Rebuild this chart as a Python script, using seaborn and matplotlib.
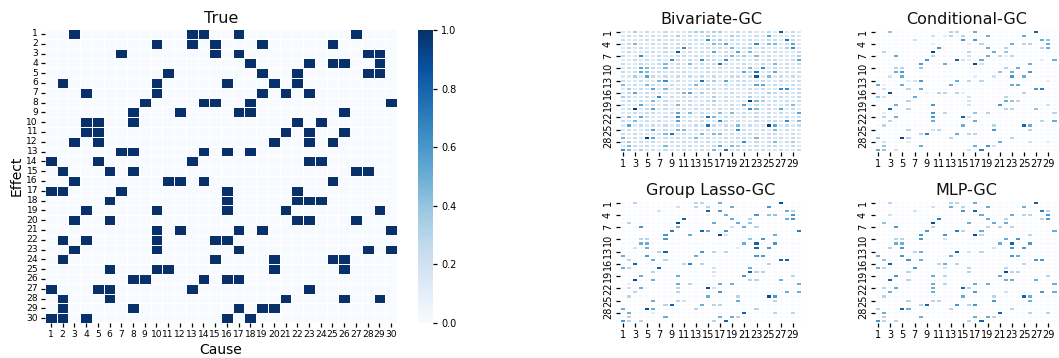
import numpy as np
import pandas as pd
import matplotlib
matplotlib.use("Agg")
import matplotlib.pyplot as plt
import seaborn as sns

# ---------------- data ----------------
labels = [str(i) for i in range(1, 31)]

# True causes (1-based column indices) for each effect row 1..30
true_causes = [
    [3, 13, 14, 17, 27], [10, 13, 15, 19, 25], [7, 15, 17, 28, 29], [18, 23, 25, 26, 29],
    [11, 19, 22, 28, 29], [2, 10, 16, 20, 22], [4, 10, 19, 21, 23], [9, 14, 15, 18, 30],
    [8, 12, 17, 18, 26], [4, 5, 8, 22, 24], [4, 5, 21, 23, 26], [3, 5, 20, 23, 25],
    [7, 8, 14, 16, 18], [1, 5, 13, 23, 24], [2, 6, 8, 27, 28], [3, 11, 12, 14, 25],
    [1, 2, 7, 16, 22], [6, 16, 22, 23, 24], [4, 10, 16, 21, 29], [3, 6, 22, 23, 27],
    [10, 12, 17, 19, 30], [2, 4, 10, 15, 16], [3, 10, 17, 28, 30], [2, 15, 20, 25, 26],
    [6, 10, 11, 20, 26], [8, 9, 14, 16, 17], [1, 5, 6, 13, 23], [2, 6, 21, 26, 29],
    [2, 8, 17, 19, 20], [1, 2, 4, 16, 18],
]

# Bivariate-GC: digit d = intensity bin (value ~ (d + 0.5) / 10), 30 rows x 30 cols
bivariate_rows = [
    "11312 11211 12332 33112 12112 18121", "12121 21213 12113 21132 11215 11121",
    "21112 12121 11216 23121 12112 21721", "12411 21212 12121 43512 12614 41251",
    "12121 11212 62112 12141 23121 11361", "12112 21218 12121 51215 14121 21112",
    "21161 12112 21212 11242 31412 12113", "11212 12162 12162 21612 11212 21125",
    "21121 12412 14121 27211 21121 41212", "12154 21412 11212 12112 14161 21211",
    "21254 12121 21112 12121 52712 51212", "11315 21212 12121 21122 12814 12121",
    "21121 14612 11272 31512 21121 12112", "41214 21121 12412 11212 21551 21121",
    "13121 51412 12112 21211 12121 16612", "12512 11212 45131 21121 12113 21212",
    "32112 16121 21211 31212 13121 12112", "12121 41212 12112 31211 19431 21212",
    "21151 21214 12121 21121 51212 11241", "12912 51211 21212 12121 16412 15121",
    "11212 21125 14121 14141 21212 12115", "14152 11216 21127 41211 21212 11212",
    "21412 12115 12121 16212 11212 21614", "15121 21212 11217 21214 12119 51212",
    "12112 51214 41212 11216 21121 41211", "21211 12471 21141 44121 12112 21121",
    "41219 51212 12412 11212 21412 12121", "13121 21121 21212 12121 61212 41231",
    "14212 11412 12121 25143 11212 21121", "64131 21211 21121 41712 12121 12112",
]

# Sparse panels: "col:level" (value = level/10)
conditional_rows = [
    "3:4 13:3 14:3 17:5 27:8", "10:2 12:1 13:3 15:3 19:5 25:5", "7:2 15:6 17:6 28:5 29:4",
    "10:1 16:1 18:3 23:5 25:3 26:3 29:5", "11:6 19:5 22:3 28:3 29:5", "2:3 10:9 16:3 20:5 22:4",
    "4:5 10:3 16:2 19:5 21:3 22:1 23:3", "9:6 14:8 15:2 16:1 18:5 28:1 30:5",
    "8:6 12:5 17:9 18:2 26:5", "4:3 5:3 8:4 22:3 24:5", "4:5 5:6 21:4 23:5 26:6",
    "3:2 5:5 17:1 20:2 23:6 25:5", "6:1 7:2 8:6 14:5 16:3 18:3 29:1",
    "1:5 2:1 5:5 13:5 23:5 24:5", "2:2 6:3 8:5 27:6 28:7",
    "3:9 9:1 11:3 12:3 14:3 15:1 25:3", "1:4 2:2 7:5 16:2 22:3", "6:3 16:2 22:5 23:4 24:3",
    "4:5 10:6 16:2 21:6 29:2", "3:8 6:3 22:3 23:3 27:4", "2:1 10:6 12:3 17:4 19:3 30:3",
    "2:3 4:5 10:6 15:8 16:2", "3:3 10:5 17:5 28:3 30:5", "2:3 15:5 20:3 25:8 26:5",
    "6:3 10:2 11:3 20:6 26:3", "8:3 9:7 14:5 16:3 17:3", "1:4 5:9 6:3 13:3 23:3",
    "2:2 6:1 21:5 26:2 29:1", "2:4 8:5 17:5 19:6 20:2", "1:5 2:4 4:2 16:2 18:7",
]

group_lasso_rows = [
    "3:3 13:3 14:3 17:5 27:9", "10:2 13:3 15:3 19:5 25:6", "7:2 15:8 17:6 28:5 29:3",
    "15:1 18:5 23:6 25:4 26:4 29:6", "11:8 19:5 22:3 28:5 29:6", "2:3 10:9 16:5 20:5 22:4",
    "4:6 10:5 19:2 21:5 23:3", "9:7 14:8 15:5 18:6 30:7", "8:6 12:5 17:9 18:2 26:5",
    "4:3 5:3 8:6 22:4 24:6", "4:5 5:5 21:5 23:8 26:6", "3:2 5:5 20:1 23:8 25:6",
    "7:3 8:8 14:6 16:3 18:3", "1:5 5:6 13:5 23:6 24:6", "2:3 6:5 8:3 27:8 28:8",
    "3:8 11:3 12:7 14:3 25:3", "1:5 2:3 7:8 16:2 22:5", "6:3 16:2 22:8 23:3 24:3",
    "4:5 10:5 16:1 21:6 29:3", "3:9 6:5 22:3 23:3 27:5", "2:1 10:5 12:3 17:5 19:5 30:5",
    "2:2 4:5 10:3 15:9 16:2", "3:3 10:3 17:6 28:5 30:5", "2:3 15:5 20:3 25:9 26:6",
    "6:5 10:3 11:2 20:5 26:3", "8:3 9:8 14:5 16:3 17:3", "1:5 5:9 6:5 13:3 23:3",
    "2:5 6:1 21:8 26:3 29:3", "2:3 8:5 17:5 19:5 20:3", "1:6 2:3 4:3 16:3 18:8",
]

mlp_rows = [
    "3:3 13:3 14:3 17:5 27:8", "10:2 13:5 15:3 19:5 25:5", "7:2 15:6 17:8 28:7 29:3",
    "3:2 18:5 23:5 25:3 26:3 29:6", "11:7 19:5 22:3 28:3 29:6", "2:4 10:9 16:5 20:5 22:5",
    "4:6 10:3 19:3 21:3 23:3", "9:6 14:7 15:3 18:5 30:5", "8:6 12:6 17:9 18:3 26:3",
    "4:3 5:3 8:6 12:2 22:5 24:6", "4:5 5:5 21:5 23:8 26:6", "3:3 5:6 20:2 23:6 25:6",
    "7:3 8:5 14:8 16:2 18:3", "1:5 5:6 13:5 23:6 24:5", "2:4 6:6 8:5 27:6 28:6",
    "3:8 11:3 12:5 14:3 25:3", "1:5 2:3 7:6 12:2 16:3 22:3", "6:3 16:3 22:9 23:3 24:3",
    "4:6 10:5 12:3 21:5 29:3", "3:8 6:3 22:5 23:5 27:5", "10:5 12:3 17:5 19:5 30:5",
    "2:3 4:5 10:5 15:8 16:3", "3:5 10:5 17:6 22:2 28:6 30:5", "2:3 15:5 20:3 25:8 26:5",
    "6:3 10:3 11:3 20:6 26:5", "8:3 9:8 14:6 16:3 17:6", "1:3 5:8 6:5 13:3 23:3",
    "2:5 21:8 26:3 29:3", "2:3 8:5 17:5 19:5 20:3", "1:6 2:3 4:3 16:3 18:8",
]


def true_matrix(causes):
    m = np.zeros((30, 30))
    for r, cols in enumerate(causes):
        for c in cols:
            m[r, c - 1] = 1.0
    return pd.DataFrame(m, index=labels, columns=labels)


def digit_matrix(rows):
    m = np.array([[(int(ch) + 0.5) / 10 if ch != "0" else 0.0
                   for ch in row.replace(" ", "")] for row in rows])
    return pd.DataFrame(m, index=labels, columns=labels)


def sparse_matrix(rows):
    m = np.zeros((30, 30))
    for r, row in enumerate(rows):
        for item in row.split():
            c, v = item.split(":")
            m[r, int(c) - 1] = int(v) / 10
    return pd.DataFrame(m, index=labels, columns=labels)


# ---------------- figure ----------------
plt.rcParams["font.family"] = ["DejaVu Sans"]
plt.rcParams["xtick.major.size"] = 3
plt.rcParams["ytick.major.size"] = 3
plt.rcParams["xtick.major.width"] = 0.9
plt.rcParams["ytick.major.width"] = 0.9
plt.rcParams["text.color"] = "#111111"

W, H = 1059, 358
fig = plt.figure(figsize=(W / 100, H / 100), dpi=100)


def ax_px(x0, y0, x1, y1):
    return fig.add_axes([x0 / W, 1 - y1 / H, (x1 - x0) / W, (y1 - y0) / H])


ax_true = ax_px(45, 29, 397, 323)
cax = ax_px(418, 30, 433, 323)
sns.heatmap(true_matrix(true_causes), ax=ax_true, cbar_ax=cax, cmap="Blues",
            vmin=0, vmax=1, linewidths=0.5, linecolor="white",
            xticklabels=1, yticklabels=1)
ax_true.tick_params(axis="both", labelsize=6.6, pad=2)
ax_true.tick_params(axis="y", labelrotation=0)
ax_true.tick_params(axis="x", labelrotation=0)
ax_true.set_title("True", fontsize=11.5, pad=4)
ax_true.set_xlabel("Cause", fontsize=10, labelpad=3)
ax_true.set_ylabel("Effect", fontsize=10, labelpad=2)
cax.tick_params(labelsize=7, length=3, pad=3)
cax.set_yticks([0.0, 0.2, 0.4, 0.6, 0.8, 1.0])
cax.set_yticklabels(["0.0", "0.2", "0.4", "0.6", "0.8", "1.0"])

panels = [
    ("Bivariate-GC", digit_matrix(bivariate_rows), (620, 29.5, 802, 152)),
    ("Conditional-GC", sparse_matrix(conditional_rows), (875, 29.5, 1057.5, 152)),
    ("Group Lasso-GC", sparse_matrix(group_lasso_rows), (620, 200.7, 802, 323)),
    ("MLP-GC", sparse_matrix(mlp_rows), (875, 200.7, 1057.5, 323)),
]
for title, df, box in panels:
    ax = ax_px(*box)
    sns.heatmap(df, ax=ax, cmap="Blues", vmin=0, vmax=1, cbar=False,
                linewidths=0.35, linecolor="white", xticklabels=2, yticklabels=3)
    ax.tick_params(axis="both", labelsize=7, pad=2)
    ax.tick_params(axis="x", labelrotation=0)
    for t in ax.get_yticklabels():
        t.set_rotation(90)
        t.set_va("center")
    ax.set_title(title, fontsize=11.5, pad=4)

fig.savefig("out.png", dpi=100)
